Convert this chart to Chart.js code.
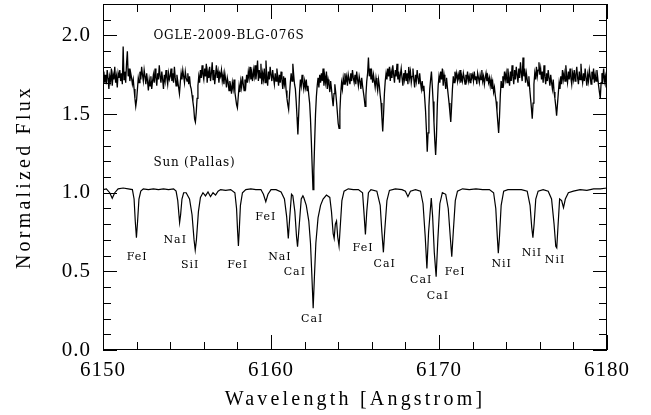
<!DOCTYPE html>
<html><head><meta charset="utf-8">
<script src="https://cdn.jsdelivr.net/npm/chart.js@4.4.0/dist/chart.umd.min.js"></script>
<style>html,body{margin:0;padding:0;background:#fff;}#wrap{width:651px;height:415px;}</style>
</head><body><div id="wrap"><canvas id="c" width="651" height="415"></canvas></div>
<script>
// ---- axes ----
const xMin = 6150, xMax = 6180, yMin = 0, yMax = 2.2;
const xTickValues = [6150, 6160, 6170, 6180];
const xTickLabels = ['6150', '6160', '6170', '6180'];
const yTickValues = [0, 0.5, 1.0, 1.5, 2.0];
const yTickLabels = ['0.0', '0.5', '1.0', '1.5', '2.0'];
const xMinorStep = 2, yMinorStep = 0.1;
const xTitle = 'Wavelength [Angstrom]';
const yTitle = 'Normalized Flux';

// ---- OGLE-2009-BLG-076S spectrum (0.05 A sampling from 6150) ----
const starStart = 6150, starStep = 0.05;
const starFlux = [
1.72,1.77,1.70,1.75,1.69,1.78,1.73,1.66,1.74,1.71,1.79,1.68,1.75,1.72,1.80,1.70,1.74,1.67,1.76,1.73,
1.78,1.71,1.76,1.69,1.93,1.72,1.77,1.70,1.82,1.90,1.74,1.79,1.71,1.76,1.73,1.69,1.72,1.66,1.60,1.55,
1.59,1.66,1.73,1.70,1.77,1.72,1.80,1.75,1.71,1.78,1.74,1.69,1.76,1.71,1.65,1.72,1.68,1.74,1.66,1.71,
1.75,1.70,1.79,1.73,1.68,1.76,1.72,1.81,1.74,1.70,1.77,1.72,1.66,1.75,1.71,1.78,1.73,1.69,1.76,1.72,
1.74,1.79,1.71,1.76,1.70,1.80,1.73,1.68,1.75,1.71,1.67,1.63,1.70,1.76,1.72,1.78,1.74,1.70,1.77,1.73,
1.71,1.76,1.69,1.74,1.68,1.66,1.62,1.58,1.54,1.47,1.45,1.51,1.60,1.68,1.74,1.70,1.78,1.73,1.81,1.75,
1.72,1.79,1.74,1.82,1.70,1.77,1.73,1.80,1.71,1.76,1.83,1.72,1.78,1.69,1.75,1.81,1.73,1.77,1.70,1.76,
1.74,1.78,1.71,1.75,1.69,1.76,1.72,1.67,1.73,1.70,1.65,1.71,1.68,1.63,1.70,1.66,1.72,1.64,1.60,1.56,
1.54,1.61,1.68,1.64,1.71,1.67,1.74,1.69,1.65,1.72,1.68,1.75,1.70,1.77,1.73,1.80,1.72,1.76,1.71,1.78,
1.74,1.81,1.72,1.77,1.84,1.71,1.78,1.73,1.82,1.69,1.76,1.72,1.79,1.70,1.84,1.74,1.68,1.77,1.72,1.80,
1.75,1.71,1.78,1.73,1.69,1.76,1.71,1.79,1.74,1.68,1.75,1.70,1.77,1.72,1.66,1.74,1.69,1.73,1.65,1.60,
1.56,1.53,1.62,1.70,1.76,1.71,1.82,1.75,1.69,1.66,1.58,1.48,1.37,1.50,1.64,1.72,1.68,1.75,1.70,1.66,
1.71,1.67,1.72,1.65,1.68,1.62,1.57,1.47,1.33,1.17,1.02,1.14,1.33,1.50,1.61,1.68,1.73,1.67,1.75,1.70,
1.76,1.71,1.79,1.68,1.74,1.70,1.77,1.66,1.72,1.69,1.64,1.71,1.66,1.60,1.55,1.63,1.69,1.64,1.58,1.51,
1.44,1.41,1.52,1.63,1.70,1.66,1.73,1.69,1.76,1.71,1.74,1.68,1.75,1.72,1.69,1.76,1.71,1.78,1.73,1.70,
1.75,1.69,1.77,1.72,1.68,1.74,1.71,1.66,1.73,1.68,1.64,1.60,1.55,1.62,1.71,1.76,1.86,1.74,1.79,1.72,
1.76,1.70,1.75,1.71,1.67,1.73,1.69,1.65,1.72,1.68,1.62,1.57,1.48,1.39,1.50,1.63,1.71,1.76,1.72,1.79,
1.74,1.80,1.71,1.77,1.73,1.81,1.75,1.70,1.78,1.74,1.82,1.72,1.77,1.70,1.75,1.79,1.73,1.68,1.76,1.72,
1.78,1.71,1.76,1.69,1.80,1.73,1.77,1.70,1.74,1.79,1.72,1.67,1.75,1.71,1.78,1.73,1.69,1.76,1.70,1.66,
1.71,1.65,1.68,1.60,1.52,1.40,1.26,1.38,1.55,1.66,1.72,1.77,1.68,1.58,1.45,1.33,1.24,1.36,1.56,1.68,
1.74,1.70,1.77,1.72,1.79,1.68,1.75,1.71,1.66,1.73,1.67,1.62,1.57,1.51,1.45,1.55,1.66,1.74,1.70,1.77,
1.73,1.76,1.71,1.75,1.72,1.78,1.70,1.74,1.71,1.76,1.73,1.69,1.75,1.72,1.77,1.71,1.74,1.70,1.76,1.73,
1.75,1.71,1.77,1.72,1.74,1.69,1.76,1.73,1.70,1.75,1.72,1.78,1.71,1.74,1.69,1.73,1.76,1.71,1.74,1.70,
1.73,1.68,1.72,1.66,1.70,1.64,1.67,1.62,1.58,1.52,1.45,1.38,1.48,1.62,1.71,1.67,1.74,1.70,1.77,1.72,
1.76,1.70,1.79,1.73,1.68,1.77,1.71,1.81,1.74,1.69,1.78,1.72,1.80,1.75,1.70,1.79,1.73,1.83,1.76,1.71,
1.86,1.74,1.79,1.70,1.76,1.72,1.68,1.74,1.66,1.60,1.54,1.47,1.57,1.69,1.76,1.72,1.80,1.74,1.78,1.83,
1.75,1.79,1.72,1.77,1.70,1.81,1.74,1.69,1.76,1.71,1.78,1.73,1.68,1.75,1.70,1.66,1.72,1.64,1.60,1.55,
1.49,1.56,1.63,1.70,1.66,1.74,1.69,1.78,1.72,1.76,1.71,1.81,1.74,1.70,1.77,1.72,1.79,1.73,1.69,1.76,
1.72,1.78,1.71,1.75,1.80,1.73,1.69,1.77,1.72,1.82,1.74,1.70,1.76,1.71,1.79,1.73,1.68,1.75,1.71,1.78,
1.74,1.69,1.77,1.72,1.79,1.70,1.75,1.71,1.78,1.73,1.68,1.64,1.60,1.70,1.76,1.72,1.79,1.71,1.74,1.67,
1.72
];

// ---- Sun (Pallas) spectrum ----
const sunWave = [
6150.0,6150.2,6150.4,6150.55,6150.7,6150.9,6151.2,6151.5,6151.75,6151.85,6151.92,6151.99,6152.06,6152.14,6152.25,6152.4,6152.7,6153.0,6153.3,6153.6,
6153.9,6154.2,6154.35,6154.45,6154.52,6154.56,6154.62,6154.7,6154.8,6154.95,6155.15,6155.3,6155.42,6155.49,6155.56,6155.68,6155.8,6155.95,6156.1,6156.25,
6156.4,6156.55,6156.7,6156.85,6157.0,6157.3,6157.6,6157.85,6157.95,6158.01,6158.06,6158.11,6158.18,6158.3,6158.5,6158.8,6159.1,6159.4,6159.55,6159.69,
6159.82,6160.0,6160.3,6160.6,6160.8,6160.93,6161.03,6161.12,6161.22,6161.3,6161.42,6161.52,6161.58,6161.65,6161.8,6161.9,6161.95,6162.1,6162.25,6162.35,
6162.43,6162.51,6162.59,6162.67,6162.8,6162.95,6163.1,6163.3,6163.5,6163.6,6163.7,6163.76,6163.83,6163.9,6163.97,6164.05,6164.12,6164.22,6164.35,6164.6,
6164.9,6165.2,6165.45,6165.53,6165.62,6165.7,6165.8,6165.95,6166.3,6166.5,6166.6,6166.69,6166.77,6166.9,6167.05,6167.4,6167.8,6168.0,6168.15,6168.3,
6168.6,6168.9,6169.05,6169.18,6169.28,6169.38,6169.54,6169.62,6169.72,6169.83,6169.93,6170.05,6170.2,6170.4,6170.55,6170.67,6170.76,6170.85,6170.97,6171.1,
6171.4,6171.8,6172.2,6172.6,6173.0,6173.25,6173.38,6173.47,6173.53,6173.6,6173.7,6173.85,6174.1,6174.5,6174.9,6175.25,6175.42,6175.52,6175.59,6175.66,
6175.76,6175.9,6176.2,6176.5,6176.7,6176.85,6176.95,6177.01,6177.08,6177.18,6177.3,6177.41,6177.52,6177.7,6178.0,6178.4,6178.8,6179.2,6179.6,6180.0
];
const sunFlux = [
1.020,1.025,1.000,0.965,1.000,1.025,1.030,1.025,1.020,0.960,0.820,0.714,0.820,0.960,1.010,1.025,1.020,1.025,1.020,1.025,
1.020,1.025,1.010,0.950,0.860,0.810,0.860,0.960,1.000,1.000,0.960,0.860,0.700,0.636,0.700,0.880,0.970,1.000,0.980,1.005,
0.975,1.000,0.985,1.010,1.020,1.015,1.020,1.000,0.900,0.760,0.661,0.760,0.920,1.000,1.020,1.025,1.020,1.020,0.990,0.943,
0.990,1.020,1.020,1.005,0.960,0.850,0.710,0.850,0.990,0.980,0.880,0.720,0.657,0.750,0.960,0.980,0.970,0.920,0.820,0.680,
0.480,0.265,0.480,0.680,0.840,0.920,0.960,0.985,0.970,0.880,0.740,0.710,0.800,0.820,0.720,0.660,0.780,0.950,1.010,1.025,
1.020,1.020,1.000,0.880,0.735,0.880,1.000,1.020,1.010,0.920,0.750,0.621,0.760,0.950,1.015,1.025,1.020,1.010,0.975,1.010,
1.020,1.010,0.930,0.720,0.519,0.750,0.966,0.850,0.620,0.466,0.700,0.930,1.000,0.990,0.900,0.720,0.593,0.750,0.950,1.010,
1.025,1.020,1.025,1.020,1.020,1.000,0.900,0.720,0.615,0.720,0.920,1.010,1.020,1.020,1.020,1.010,0.920,0.780,0.714,0.800,
0.960,1.010,1.020,1.010,0.960,0.800,0.660,0.650,0.780,0.960,0.950,0.905,0.960,1.000,1.010,1.020,1.015,1.025,1.025,1.030
];

// ---- line identifications (label anchor in data units) ----
const lineNames     = ['FeI','NaI','SiI','FeI','FeI','NaI','CaI','CaI','FeI','CaI','CaI','CaI','FeI','NiI','NiI','NiI'];
const lineLabelWave = [6152.03,6154.30,6155.19,6158.02,6159.69,6160.53,6161.42,6162.45,6165.48,6166.77,6168.94,6169.93,6170.96,6173.73,6175.53,6176.91];
const lineLabelFlux = [0.593,0.699,0.540,0.540,0.847,0.593,0.498,0.195,0.647,0.547,0.445,0.345,0.498,0.547,0.619,0.572];

// ---- panel captions ----
const captionText = ['OGLE-2009-BLG-076S', 'Sun (Pallas)'];
const captionWave = [6153.0, 6153.0];
const captionFlux = [2.0, 1.19];

const starPoints = starFlux.map((f, i) => ({ x: starStart + i * starStep, y: f }));
const sunPoints = sunWave.map((w, i) => ({ x: w, y: sunFlux[i] }));

const framePlugin = {
  id: 'frame',
  afterDraw(chart) {
    const ctx = chart.ctx, ca = chart.chartArea;
    const xs = chart.scales.x, ys = chart.scales.y;
    ctx.save();
    ctx.strokeStyle = '#000';
    ctx.lineWidth = 1;
    ctx.strokeRect(Math.round(ca.left) + 0.5, Math.round(ca.top) + 0.5,
                   Math.round(ca.right - ca.left) - 1, Math.round(ca.bottom - ca.top) - 1);
    ctx.beginPath();
    for (let v = xMin; v <= xMax + 1e-9; v += xMinorStep) {
      const px = Math.round(xs.getPixelForValue(v)) + 0.5;
      const major = Math.abs(v % 10) < 1e-6;
      const len = major ? 15 : 8;
      ctx.moveTo(px, ca.bottom); ctx.lineTo(px, ca.bottom - len);
      ctx.moveTo(px, ca.top); ctx.lineTo(px, ca.top + len);
    }
    for (let k = 0; k <= Math.round((yMax - yMin) / yMinorStep); k++) {
      const v = yMin + k * yMinorStep;
      const py = Math.round(ys.getPixelForValue(v)) + 0.5;
      const major = k % 5 === 0;
      const len = major ? 14 : 8;
      ctx.moveTo(ca.left, py); ctx.lineTo(ca.left + len, py);
      ctx.moveTo(ca.right, py); ctx.lineTo(ca.right - len, py);
    }
    ctx.stroke();

    ctx.fillStyle = '#000';
    ctx.font = '21px "Liberation Serif"';
    ctx.letterSpacing = '1px';
    ctx.textAlign = 'center'; ctx.textBaseline = 'middle';
    xTickValues.forEach((v, i) => ctx.fillText(xTickLabels[i], xs.getPixelForValue(v), ca.bottom + 20));
    ctx.textAlign = 'right';
    yTickValues.forEach((v, i) => ctx.fillText(yTickLabels[i], ca.left - 12, ys.getPixelForValue(v)));

    ctx.font = '20px "Liberation Serif"';
    ctx.letterSpacing = '3.2px';
    ctx.textAlign = 'center';
    ctx.fillText(xTitle, (ca.left + ca.right) / 2, ca.bottom + 50);
    ctx.save();
    ctx.translate(25, (ca.top + ca.bottom) / 2);
    ctx.rotate(-Math.PI / 2);
    ctx.fillText(yTitle, 0, 0);
    ctx.restore();

    ctx.font = '11px "DejaVu Serif"';
    ctx.letterSpacing = '1px';
    ctx.textAlign = 'center';
    lineNames.forEach((n, i) => ctx.fillText(n, xs.getPixelForValue(lineLabelWave[i]), ys.getPixelForValue(lineLabelFlux[i])));

    ctx.font = '12px "DejaVu Serif"';
    ctx.letterSpacing = '0.8px';
    ctx.textAlign = 'left';
    captionText.forEach((t, i) => ctx.fillText(t, xs.getPixelForValue(captionWave[i]), ys.getPixelForValue(captionFlux[i])));
    ctx.restore();
  }
};

new Chart(document.getElementById('c'), {
  type: 'scatter',
  data: {
    datasets: [
      { data: starPoints, showLine: true, borderColor: '#000', borderWidth: 1.3, pointRadius: 0, tension: 0 },
      { data: sunPoints, showLine: true, borderColor: '#000', borderWidth: 1.2, pointRadius: 0, tension: 0 }
    ]
  },
  options: {
    responsive: false, animation: false, devicePixelRatio: 1,
    layout: { padding: { left: 103, right: 44, top: 4, bottom: 65 } },
    plugins: { legend: { display: false }, tooltip: { enabled: false } },
    scales: {
      x: { type: 'linear', min: xMin, max: xMax, display: false },
      y: { type: 'linear', min: yMin, max: yMax, display: false }
    }
  },
  plugins: [framePlugin]
});
</script></body></html>
